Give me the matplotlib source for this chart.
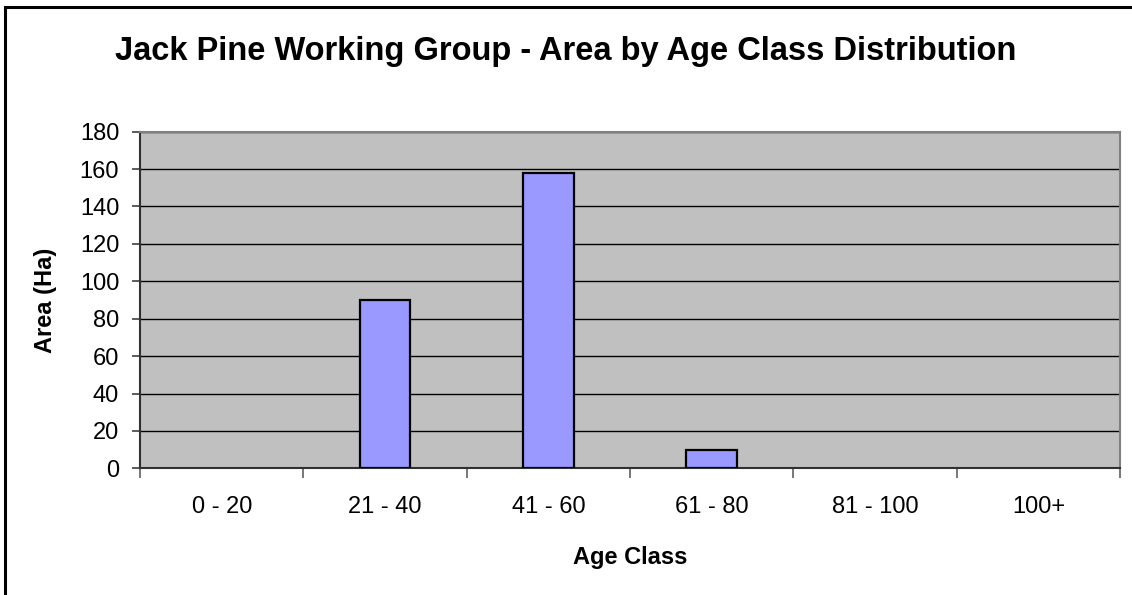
import numpy as np
import matplotlib.pyplot as plt
from matplotlib.patches import Rectangle

# age classes and area per class (hectares)
age_classes = ["0 - 20", "21 - 40", "41 - 60", "61 - 80", "81 - 100", "100+"]
area_ha = [0, 90, 158, 10, 0, 0]
y_ticks = list(range(0, 181, 20))

plt.rcParams['font.family'] = ['Liberation Sans', 'DejaVu Sans']

fig = plt.figure(figsize=(11.32, 5.95), dpi=100)
ax = fig.add_axes([0.1237, 0.2129, 0.8657, 0.5658])

# outer chart frame (runs off the right and bottom edges)
fig.patches.append(Rectangle((0.0045, -0.05), 1.2, 1.038, transform=fig.transFigure,
                             fill=False, edgecolor='black', linewidth=2.2))

x = np.arange(len(age_classes))
ax.set_facecolor('#C0C0C0')
edge_w = [1.6 if v > 0 else 0 for v in area_ha]
ax.bar(x, area_ha, width=0.31, color='#9999FF', edgecolor='black', linewidth=edge_w, zorder=3)

ax.set_xlim(-0.5, len(age_classes) - 0.5)
ax.set_ylim(0, 180)
ax.set_yticks(y_ticks)
ax.yaxis.grid(True, color='black', linewidth=1.0, zorder=1)
ax.set_axisbelow(True)

# tick marks between categories, labels in the middle
ax.set_xticks(np.arange(-0.5, len(age_classes)), minor=False)
ax.set_xticklabels([])
ax.set_xticks(x, minor=True)
ax.set_xticklabels(age_classes, minor=True)
ax.tick_params(axis='x', which='major', direction='out', length=7, width=1.2, color='#606060')
ax.tick_params(axis='x', which='minor', length=0, pad=20, labelsize=17)
ax.tick_params(axis='y', direction='out', length=6, width=1.2, color='#404040', labelsize=17, pad=9)

for side in ['left', 'bottom']:
    ax.spines[side].set_color('#303030')
    ax.spines[side].set_linewidth(1.5)
for side in ['top', 'right']:
    ax.spines[side].set_color('#808080')
    ax.spines[side].set_linewidth(1.5)

ax.set_ylabel('Area (Ha)', fontsize=17, fontweight='bold', labelpad=16)
ax.set_xlabel('Age Class', fontsize=17, fontweight='bold', labelpad=20)
fig.text(0.5, 0.914, 'Jack Pine Working Group - Area by Age Class Distribution',
         ha='center', va='center', fontsize=23.5, fontweight='bold')

fig.savefig('out.png', dpi=100)
